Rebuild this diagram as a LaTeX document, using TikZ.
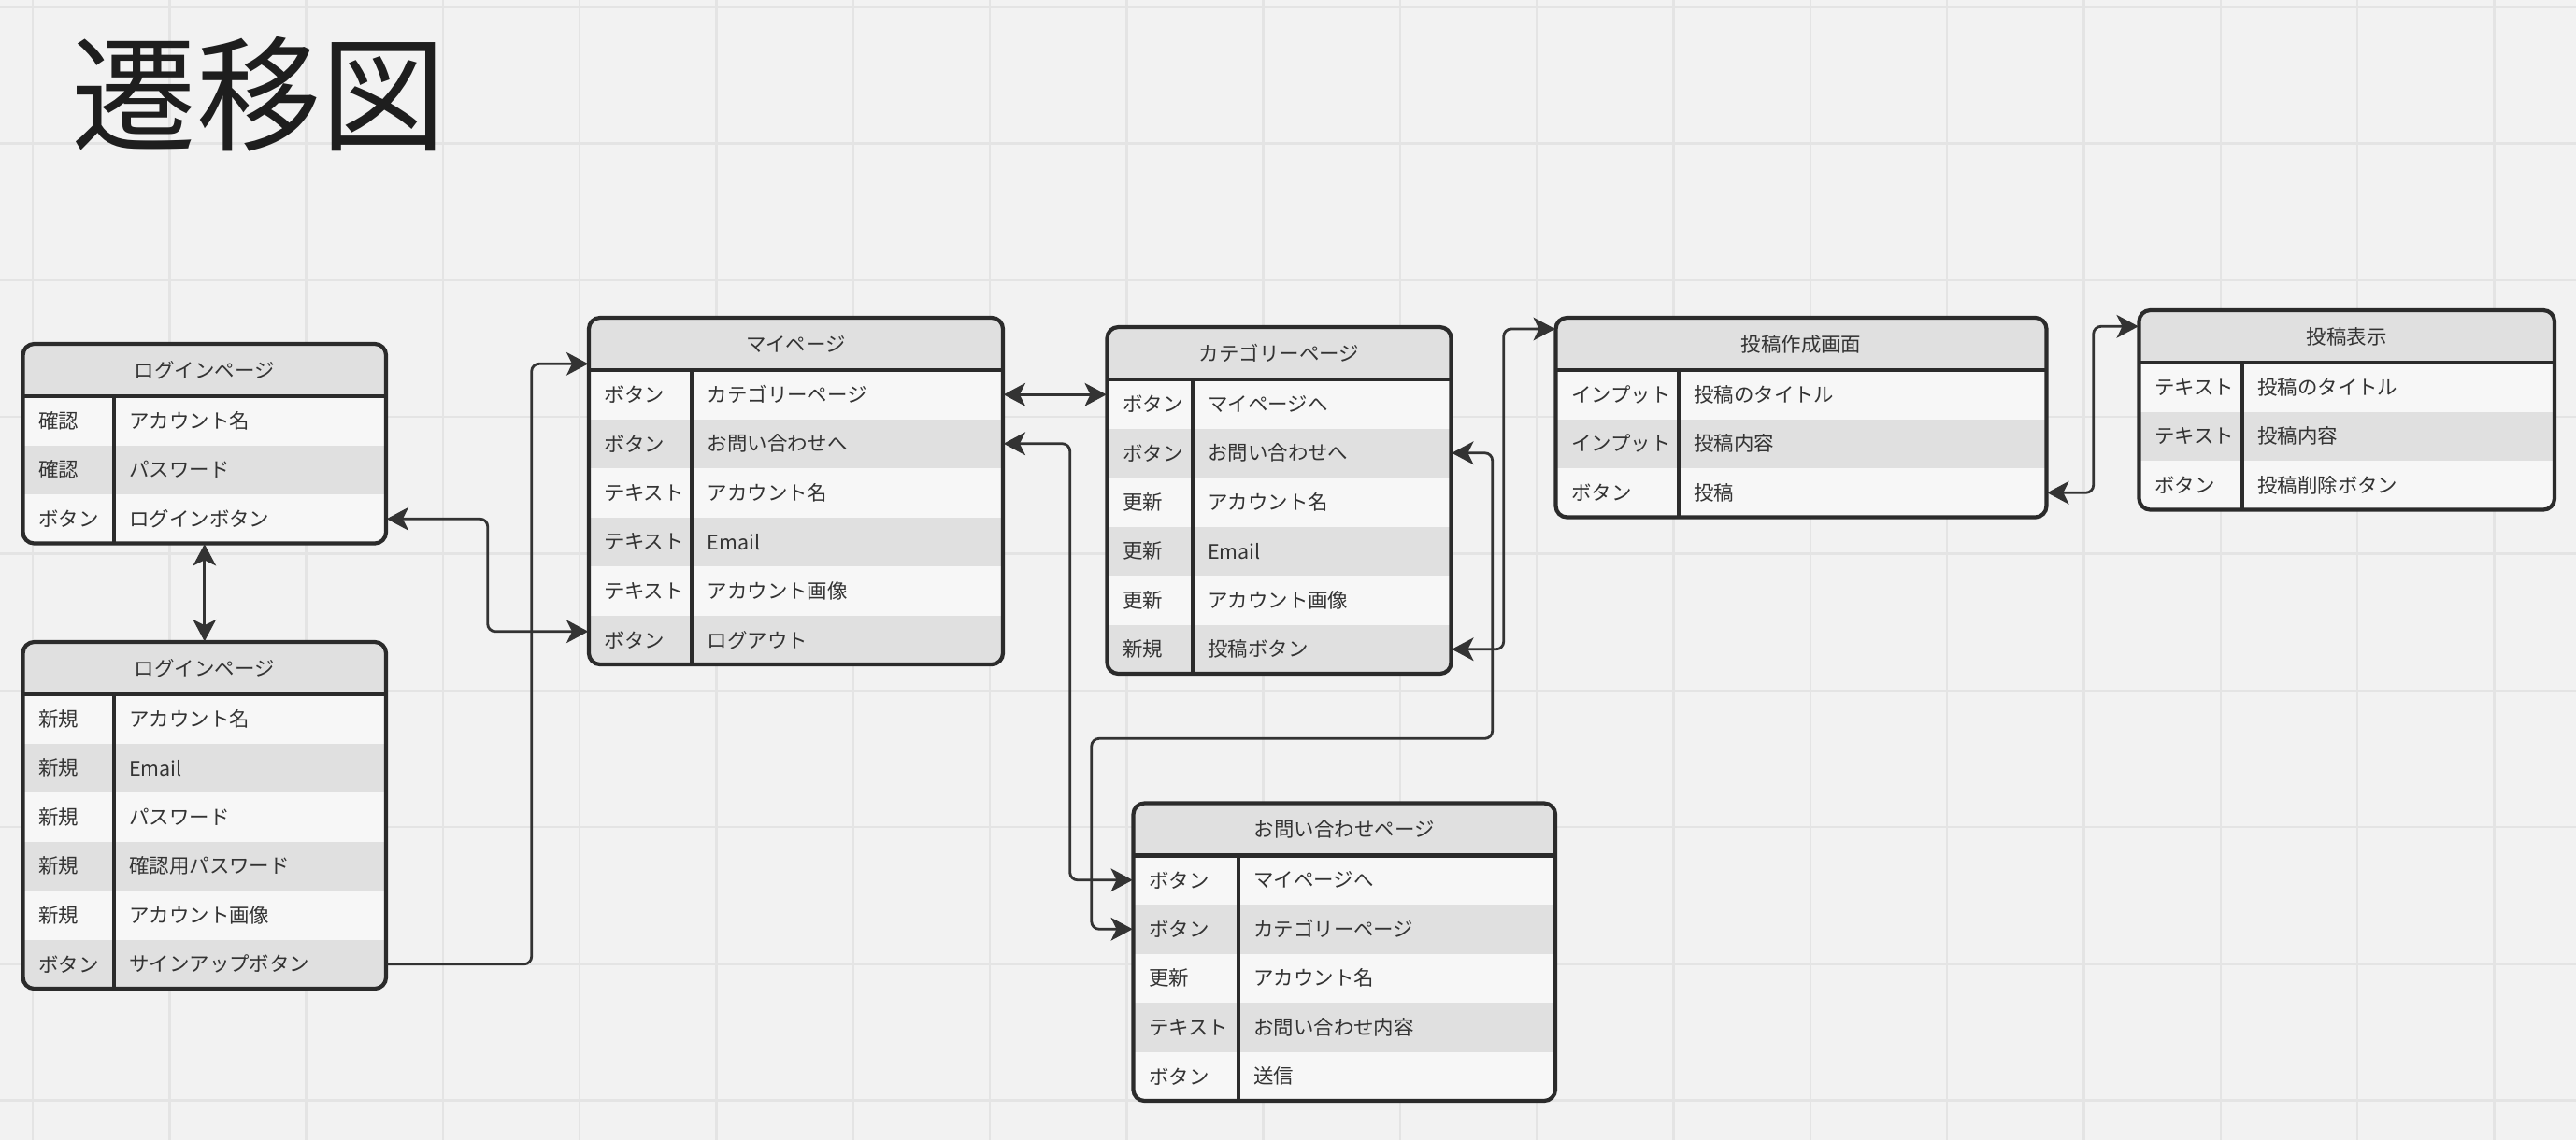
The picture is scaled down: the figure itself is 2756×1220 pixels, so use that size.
\documentclass[tikz,border=0pt]{standalone}
\usepackage{fontspec}
\newfontfamily\jp{Noto Sans CJK JP}
\usetikzlibrary{arrows.meta,calc}

\definecolor{canvas}{HTML}{F2F2F2}
\definecolor{gridline}{HTML}{E4E4E4}
\definecolor{hdfill}{HTML}{E0E0E0}
\definecolor{rowlight}{HTML}{F7F7F7}
\definecolor{rowdark}{HTML}{E0E0E0}
\definecolor{edge}{HTML}{2B2B2B}
\definecolor{ink}{HTML}{333333}
\definecolor{titleink}{HTML}{1E1E1E}
\definecolor{wire}{HTML}{333333}

\tikzset{
  cell/.style={font=\jp\fontsize{6.1}{7}\selectfont, text=ink, inner sep=0pt, anchor=west},
  headtext/.style={font=\jp\fontsize{6.1}{7}\selectfont, text=ink, inner sep=0pt},
  frame/.style={draw=edge, line width=1.2pt, rounded corners=3.4pt},
  rule/.style={draw=edge, line width=1.15pt},
  rowbox/.style={inner sep=0pt, minimum height=0.525cm},
  conn/.style={draw=wire, line width=0.8pt, rounded corners=2.3pt,
    >={Stealth[length=6.6pt,width=7pt,inset=1.7pt]}},
}

% #1 name, #2 left, #3 right, #4 column rule, #5 top, #6 title, #7 rows (kind/label)
\newcommand\screentable[7]{%
  \foreach [count=\n] \rk/\rv in {#7} {\xdef\rowcount{\n}}%
  \pgfmathsetmacro\hbot{#5+56}%
  \pgfmathsetmacro\tbot{#5+56+52.5*\rowcount}%
  \pgfmathsetmacro\tabw{(#3-#2)*0.01}%
  \pgfmathsetmacro\tabh{(\tbot-#5)*0.01}%
  \begin{scope}
    \clip[rounded corners=3.4pt] (#2,#5) rectangle (#3,\tbot);
    \fill[hdfill] (#2,#5) rectangle (#3,\hbot);
    \foreach [count=\n] \rk/\rv in {#7} {
      \pgfmathsetmacro\ya{\hbot+52.5*(\n-1)}
      \pgfmathsetmacro\yb{\ya+52.5}
      \pgfmathtruncatemacro\odd{mod(\n,2)}
      \ifnum\odd=1 \fill[rowlight] (#2,\ya) rectangle (#3,\yb);
      \else \fill[rowdark] (#2,\ya) rectangle (#3,\yb); \fi
    }
  \end{scope}
  \node[inner sep=0pt, minimum width=\tabw cm, minimum height=\tabh cm] (#1)
    at ({(#2+#3)/2},{(#5+\tbot)/2}) {};
  \node[headtext] (#1-h) at ({(#2+#3)/2},{#5+28}) {#6};
  \foreach [count=\n] \rk/\rv in {#7} {
    \pgfmathsetmacro\ym{\hbot+52.5*(\n-0.5)}
    \node[rowbox, minimum width=\tabw cm] (#1-\n) at ({(#2+#3)/2},\ym) {};
    \node[cell] (#1-k\n) at ({#2+16},\ym) {\rk};
    \node[cell] (#1-v\n) at ({#4+15.5},\ym) {\rv};
  }
  \draw[rule] (#2,\hbot) -- (#3,\hbot);
  \draw[rule] (#4,\hbot) -- (#4,\tbot);
  \draw[frame] (#2,#5) rectangle (#3,\tbot);
}

\begin{document}
\begin{tikzpicture}[x=0.01cm, y=-0.01cm]
  \useasboundingbox (0,0) rectangle (2756,1220);
  \fill[canvas] (0,0) rectangle (2756,1220);
  % background grid
  \foreach \gx in {0,...,18}
    \draw[gridline, line width=0.7pt] ({35+146.3*\gx},0) -- ++(0,1220);
  \foreach \gy in {0,...,8}
    \draw[gridline, line width=0.7pt] (0,{7.3+146.3*\gy}) -- ++(2756,0);

  % heading
  \node[font=\jp\fontsize{38}{42}\selectfont, text=titleink, anchor=west, inner sep=0pt]
    (title) at (76,101) {遷移図};

  % screens
  \screentable{login}{24.6}{413}{122}{368}{ログインページ}
    {確認/アカウント名, 確認/パスワード, ボタン/ログインボタン}
  \screentable{signup}{24.6}{413}{122}{687}{ログインページ}
    {新規/アカウント名, 新規/Email, 新規/パスワード, 新規/確認用パスワード,
     新規/アカウント画像, ボタン/サインアップボタン}
  \screentable{mypage}{630}{1073}{740.5}{340}{マイページ}
    {ボタン/カテゴリーページ, ボタン/お問い合わせへ, テキスト/アカウント名,
     テキスト/Email, テキスト/アカウント画像, ボタン/ログアウト}
  \screentable{category}{1184.5}{1552.5}{1276}{350}{カテゴリーページ}
    {ボタン/マイページへ, ボタン/お問い合わせへ, 更新/アカウント名,
     更新/Email, 更新/アカウント画像, 新規/投稿ボタン}
  \screentable{contact}{1212.5}{1664}{1325}{859.5}{お問い合わせページ}
    {ボタン/マイページへ, ボタン/カテゴリーページ, 更新/アカウント名,
     テキスト/お問い合わせ内容, ボタン/送信}
  \screentable{compose}{1664.5}{2189.5}{1796}{340}{投稿作成画面}
    {インプット/投稿のタイトル, インプット/投稿内容, ボタン/投稿}
  \screentable{postview}{2288.5}{2733}{2399}{332}{投稿表示}
    {テキスト/投稿のタイトル, テキスト/投稿内容, ボタン/投稿削除ボタン}

  % transitions
  \draw[conn, <->] (login.south) -- (signup.north);
  \draw[conn, <->] (login-3.east) -- ++(108,0) |- ($(mypage-6.west)+(0,-9)$);
  \draw[conn, ->] (signup-6.east) -- ++(155,0) |- ($(mypage.north west)+(0,50)$);
  \draw[conn, <->] (mypage-1.east) -- (mypage-1.east -| category.west);
  \draw[conn, <->] (mypage-2.east) -- ++(71,0) |- (contact-1.west);
  \draw[conn, <->] (category-2.east) -- ++(43.5,0)
    |- ($(contact.north west)+(-44,-68.5)$) |- (contact-2.west);
  \draw[conn, <->] (category-6.east) -- ++(55.5,0) |- ($(compose.north west)+(0,12.7)$);
  \draw[conn, <->] (compose-3.east) -- ++(49.5,0) |- ($(postview.north west)+(0,18)$);
\end{tikzpicture}
\end{document}
